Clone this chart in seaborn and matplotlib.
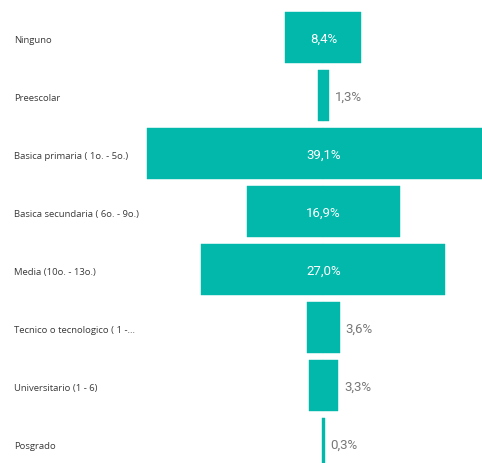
import matplotlib
matplotlib.use("Agg")
import matplotlib.pyplot as plt
import matplotlib.transforms as mtransforms
import seaborn as sns
import pandas as pd
from matplotlib import font_manager

categories = ["Ninguno", "Preescolar", "Basica primaria ( 1o. - 5o.)",
              "Basica secundaria ( 6o. - 9o.)", "Media (10o. - 13o.)",
              "Tecnico o tecnologico ( 1 -...", "Universitario (1 - 6)", "Posgrado"]
values = [8.4, 1.3, 39.1, 16.9, 27.0, 3.6, 3.3, 0.3]
value_labels = ["8,4%", "1,3%", "39,1%", "16,9%", "27,0%", "3,6%", "3,3%", "0,3%"]

sns.set_theme(style="white")
names = {f.name for f in font_manager.fontManager.ttflist}
val_font = "Liberation Sans Narrow" if "Liberation Sans Narrow" in names else "Roboto"
plt.rcParams['font.family'] = ['Open Sans', 'DejaVu Sans']

df = pd.DataFrame({"cat": categories, "val": values})
df["half"] = df["val"] / 2
df["neg"] = -df["val"] / 2

teal = "#01B8AA"
fig = plt.figure(figsize=(4.82, 4.63), dpi=100)
ax = fig.add_axes([0, 0, 1, 1])
sns.barplot(data=df, y="cat", x="half", color=teal, saturation=1, width=0.88,
            edgecolor=teal, linewidth=0.3, ax=ax, orient="h")
sns.barplot(data=df, y="cat", x="neg", color=teal, saturation=1, width=0.88,
            edgecolor=teal, linewidth=0.3, ax=ax, orient="h")

ax.set_xlim(-35.8, 17.55)
ax.set_ylim(7.33, -0.655)
ax.axis("off")

trans = mtransforms.blended_transform_factory(ax.transAxes, ax.transData)
for i, (c, v, lab) in enumerate(zip(categories, values, value_labels)):
    ax.text(14 / 482, i + 0.05, c, transform=trans, ha="left", va="center",
            fontsize=6.8, color="#3a3a3a")
    if v >= 8:
        ax.text(0, i + 0.03, lab, ha="center", va="center", fontsize=9.5,
                color="white", family=val_font)
    else:
        ax.text(v / 2 + 0.65, i + 0.03, lab, ha="left", va="center", fontsize=9.5,
                color="#777777", family=val_font)

fig.savefig("out.png", dpi=100)
